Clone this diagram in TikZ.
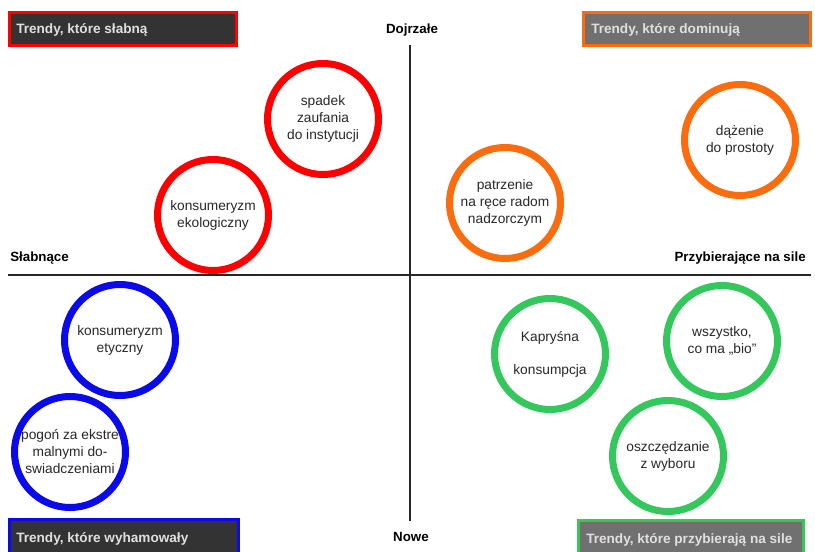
\documentclass[tikz,border=0pt]{standalone}
\usepackage{fontspec}
\setmainfont{Liberation Sans}
\begin{document}
\definecolor{trRed}{RGB}{255,0,0}
\definecolor{trOrange}{RGB}{250,108,14}
\definecolor{trBlue}{RGB}{10,10,235}
\definecolor{trGreen}{RGB}{52,200,92}
\definecolor{darkFill}{RGB}{51,51,51}
\definecolor{grayFill}{RGB}{112,112,112}
\definecolor{txt}{RGB}{40,40,40}
\begin{tikzpicture}[x=0.75pt,y=-0.75pt,
  trend/.style={circle,draw=#1,line width=5.25pt,minimum size=83.25pt,inner sep=0pt,
    align=center,font=\fontsize{10.3}{12.75}\selectfont,text=txt},
  frame/.style={draw=#1,line width=2.25pt},
  boxtext/.style={anchor=west,inner sep=0pt,text=white!88!black,
    font=\fontsize{10.2}{12}\bfseries},
  axislabel/.style={font=\fontsize{10}{12}\bfseries,text=black,inner sep=0pt},
  axis/.style={line width=1.1pt,draw=black!85}]
\useasboundingbox (0,0) rectangle (815,552);
\fill[white] (0,0) rectangle (815,552);

% axes
\coordinate (top) at (410,45);
\coordinate (bottom) at (410,521);
\coordinate (left) at (8,275);
\coordinate (right) at (811,275);
\draw[axis] (top) -- (bottom);
\draw[axis] (left) -- (right);

\node[axislabel] (mature) at (412,30) {Dojrzałe};
\node[axislabel] (new) at (411,537) {Nowe};
\node[axislabel,anchor=west] (weak) at (10,258) {Słabnące};
\node[axislabel,anchor=east] (strong) at (806,258) {Przybierające na sile};

% corner boxes (frames, then their captions)
\draw[frame=trRed,fill=darkFill] (9.5,12.5) rectangle (236.5,45.5);
\draw[frame=trOrange,fill=grayFill] (583.5,12.5) rectangle (810.5,45.5);
\draw[frame=trBlue,fill=darkFill] (9.5,519.5) rectangle (238.5,570);
\draw[frame=trGreen,fill=grayFill] (578.5,520.5) rectangle (803.5,570);
\node[boxtext] (capTL) at (16,30) {Trendy, które słabną};
\node[boxtext] (capTR) at (591,30) {Trendy, które dominują};
\node[boxtext] (capBL) at (16,539) {Trendy, które wyhamowały};
\node[boxtext] (capBR) at (586,540) {Trendy, które przybierają na sile};

% trends
\node[trend=trRed] (trust) at (323,119) {spadek\\zaufania\\do instytucji};
\node[trend=trRed] (eco) at (213,215) {konsumeryzm\\ekologiczny};
\node[trend=trOrange] (simple) at (740,140) {dążenie\\do prostoty};
\node[trend=trOrange] (watch) at (505,203) {patrzenie\\na ręce radom\\nadzorczym};
\node[trend=trBlue] (ethic) at (120,340) {konsumeryzm\\etyczny};
\node[trend=trBlue] (extreme) at (70,452) {pogoń za ekstre\\malnymi do-\\swiadczeniami};
\node[trend=trGreen] (whim) at (550,354) {Kapryśna\\[12pt]konsumpcja};
\node[trend=trGreen] (bio) at (722,341) {wszystko,\\co ma „bio”};
\node[trend=trGreen] (save) at (668,456) {oszczędzanie\\z wyboru};
\end{tikzpicture}
\end{document}
